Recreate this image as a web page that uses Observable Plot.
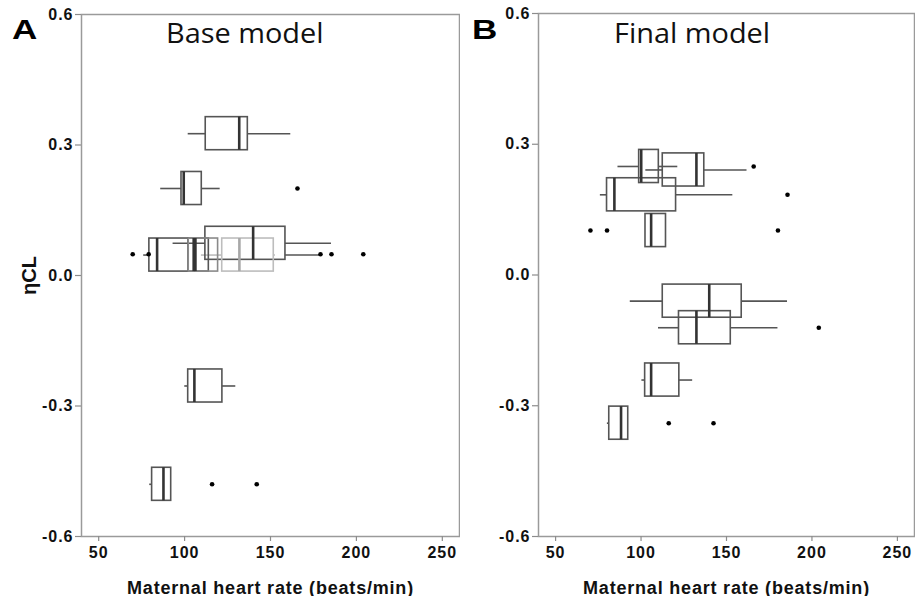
<!DOCTYPE html>
<html>
<head>
<meta charset="utf-8">
<script src="https://cdn.jsdelivr.net/npm/d3@7"></script>
<script src="https://cdn.jsdelivr.net/npm/@observablehq/plot@0.6"></script>
<style>
  html, body { margin: 0; padding: 0; background: #fff; }
  #wrap { position: relative; width: 915px; height: 596px; overflow: hidden; }
  #wrap svg { position: absolute; top: 0; }
  .letter { position: absolute; font-family: "Liberation Sans", Arial, sans-serif; font-weight: bold; font-size: 28px; line-height: 28px; color: #000; transform: scaleX(1.25); transform-origin: left top; }
  .title { position: absolute; font-family: "Open Sans", sans-serif; font-size: 27px; line-height: 27px; color: #111; transform: scaleX(1.07); transform-origin: left top; white-space: nowrap; }
  [aria-label="x-axis tick"], [aria-label="y-axis tick"] { stroke: #8c8c8c; stroke-width: 1.2px; }
  [aria-label="x-axis tick label"], [aria-label="y-axis tick label"] { font-size: 16px; font-weight: bold; fill: #111; letter-spacing: 1px; }
  [aria-label="x-axis label"] { font-size: 18px; font-weight: bold; fill: #111; letter-spacing: 0.8px; }
  [aria-label="y-axis label"] { font-size: 20px; font-weight: bold; fill: #111; }
</style>
</head>
<body>
<div id="wrap"></div>
<script>
// ---- Data ----
const xTicks = [50, 100, 150, 200, 250];
const yTicks = [-0.6, -0.3, 0.0, 0.3, 0.6];
const xLabel = "Maternal heart rate (beats/min)";
const yLabel = "ηCL";
const panelLetters = ["A", "B"];
const panelTitles = ["Base model", "Final model"];

// Panel A (Base model): boxes of maternal heart rate per ηCL value
const aEta   = [0.326, 0.200, 0.074, 0.047, 0.047, 0.047, 0.047, 0.047, -0.254, -0.480];
const aLow   = [102.1, 86.1, 93.3, 76.2, 102.4, 102.4, 109.8, 158.7, 100.1, 79.7];
const aQ1    = [112.3, 98.2, 112.1, 79.5, 102.4, 102.4, 121.9, 158.7, 102.1, 81.1];
const aMed   = [131.8, 99.5, 139.9, 84.0, 105.3, 106.3, 131.9, null, 105.7, 87.7];
const aQ3    = [136.8, 110.0, 158.7, 102.4, 114.1, 119.5, 151.9, 158.7, 122.0, 92.2];
const aHigh  = [161.8, 120.7, 185.5, 102.4, 114.1, 119.5, 152.9, 179.1, 129.8, 92.2];
const aShade = ["dark", "dark", "dark", "dark", "dark", "mid", "gray", "dark", "dark", "dark"];
const aOutX  = [165.7, 69.8, 79.1, 179.1, 185.5, 204.0, 116.0, 142.0];
const aOutY  = [0.200, 0.049, 0.049, 0.049, 0.049, 0.049, -0.480, -0.480];

// Panel B (Final model)
const bEta   = [0.249, 0.241, 0.184, 0.102, -0.060, -0.121, -0.241, -0.340];
const bLow   = [86.5, 102.8, 76.2, 102.6, 93.7, 110.2, 100.5, 80.3];
const bQ1    = [98.9, 112.7, 80.1, 102.6, 112.7, 122.2, 102.4, 81.4];
const bMed   = [100.1, 132.4, 84.4, 105.9, 139.9, 132.4, 105.9, 88.3];
const bQ3    = [110.4, 137.0, 120.5, 114.6, 158.9, 152.5, 122.4, 92.5];
const bHigh  = [121.5, 162.0, 153.7, 114.6, 185.7, 180.1, 130.2, 92.5];
const bShade = ["dark", "dark", "dark", "dark", "dark", "dark", "dark", "dark"];
const bOutX  = [165.9, 185.7, 70.4, 80.1, 180.1, 204.0, 116.2, 142.4];
const bOutY  = [0.249, 0.184, 0.102, 0.102, 0.102, -0.121, -0.340, -0.340];

// ---- Build tables ----
function boxes(eta, low, q1, med, q3, high, shade) {
  return eta.map((e, i) => ({eta: e, low: low[i], q1: q1[i], med: med[i], q3: q3[i], high: high[i], shade: shade[i]}));
}
function points(xs, ys) { return xs.map((x, i) => ({x, y: ys[i]})); }

const H = 0.038; // half box height in ηCL units
const strokeOf = d => d.shade === "gray" ? "#bdbdbd" : d.shade === "mid" ? "#8a8a8a" : "#555";
const medOf = d => d.shade === "gray" ? "#a8a8a8" : "#333";

function panel(data, outliers, opts) {
  return Plot.plot({
    width: 460,
    height: 596,
    marginLeft: opts.marginLeft,
    marginRight: 1,
    marginTop: opts.marginTop,
    marginBottom: 60,
    style: {fontFamily: "'Liberation Sans', Arial, sans-serif", fontSize: "16px", color: "#111", background: "transparent"},
    x: {domain: [40, 260]},
    y: {domain: [-0.6, 0.6]},
    marks: [
      Plot.frame({stroke: "#9a9a9a", strokeWidth: 1.5}),
      Plot.axisX({ticks: xTicks, tickSize: 5, tickPadding: 5, label: xLabel, labelAnchor: "center", labelArrow: "none", labelOffset: 57}),
      Plot.axisY({ticks: yTicks, tickSize: 6, tickPadding: 2, tickFormat: d => d.toFixed(1),
        label: opts.showYLabel ? yLabel : null, labelAnchor: "center", labelArrow: "none", labelOffset: 60}),
      // whiskers
      Plot.ruleY(data.filter(d => d.q1 > d.low), {y: "eta", x1: "low", x2: "q1", stroke: strokeOf, strokeWidth: 1.6}),
      Plot.ruleY(data.filter(d => d.high > d.q3), {y: "eta", x1: "q3", x2: "high", stroke: strokeOf, strokeWidth: 1.6}),
      // boxes
      Plot.rect(data.filter(d => d.q3 > d.q1), {x1: "q1", x2: "q3", y1: d => d.eta - H, y2: d => d.eta + H,
        fill: "none", stroke: strokeOf, strokeWidth: 1.6}),
      // medians
      Plot.ruleX(data.filter(d => d.med != null), {x: "med", y1: d => d.eta - H, y2: d => d.eta + H, stroke: medOf, strokeWidth: 2.6}),
      // outliers
      Plot.dot(outliers, {x: "x", y: "y", r: 2.3, fill: "#000", stroke: null})
    ]
  });
}

const wrap = document.getElementById("wrap");
const svgA = panel(boxes(aEta, aLow, aQ1, aMed, aQ3, aHigh, aShade), points(aOutX, aOutY), {marginLeft: 81, marginTop: 14, showYLabel: true});
svgA.style.left = "0px";
wrap.appendChild(svgA);
const svgB = panel(boxes(bEta, bLow, bQ1, bMed, bQ3, bHigh, bShade), points(bOutX, bOutY), {marginLeft: 83, marginTop: 13, showYLabel: false});
svgB.style.left = "455px";
wrap.appendChild(svgB);

// Panel letters and titles
const letterPos = [[12, 16], [472, 16]];
const titlePos = [[166, 19], [614, 19]];
panelLetters.forEach((t, i) => {
  const d = document.createElement("div");
  d.className = "letter";
  d.textContent = t;
  d.style.left = letterPos[i][0] + "px";
  d.style.top = letterPos[i][1] + "px";
  wrap.appendChild(d);
});
panelTitles.forEach((t, i) => {
  const d = document.createElement("div");
  d.className = "title";
  d.textContent = t;
  d.style.left = titlePos[i][0] + "px";
  d.style.top = titlePos[i][1] + "px";
  wrap.appendChild(d);
});
</script>
</body>
</html>
